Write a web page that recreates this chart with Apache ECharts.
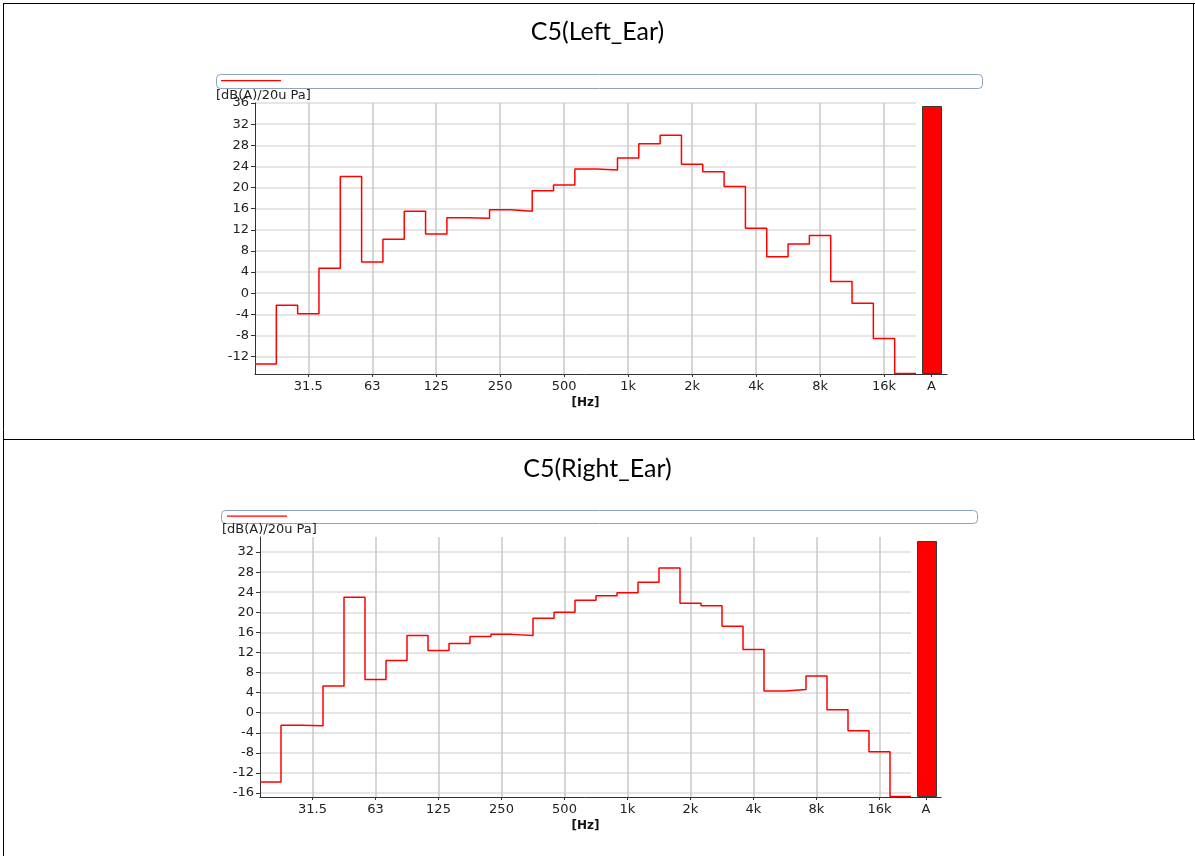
<!DOCTYPE html>
<html>
<head>
<meta charset="utf-8">
<script src="https://cdn.jsdelivr.net/npm/echarts@6/dist/echarts.min.js"></script>
<style>
  html, body { margin: 0; padding: 0; background: #ffffff; }
  #chart { width: 1195px; height: 856px; }
</style>
</head>
<body>
<div id="chart"></div>
<script>
// Third-octave band centre frequencies, 20 Hz .. 20 kHz
const bands = ['20','25','31.5','40','50','63','80','100','125','160','200','250','315','400','500','630',
               '800','1k','1.25k','1.6k','2k','2.5k','3.15k','4k','5k','6.3k','8k','10k','12.5k','16k','20k'];
// Bands that carry a frequency label on the x axis
const tickBands = ['31.5','63','125','250','500','1k','2k','4k','8k','16k'];

// Band levels, dB(A) re 20 uPa
const leftEar  = [-13.4,-2.3,-3.9,4.7,22.1,5.9,10.2,15.5,11.2,14.3,14.2,15.8,15.5,19.4,20.5,23.5,
                  23.3,25.6,28.3,29.9,24.4,23.0,20.2,12.3,6.9,9.3,10.9,2.2,-1.9,-8.6,-15.2];
const rightEar = [-13.8,-2.5,-2.6,5.3,23.0,6.6,10.4,15.4,12.4,13.8,15.2,15.6,15.4,18.8,20.0,22.4,
                  23.3,23.9,26.0,28.8,21.8,21.3,17.2,12.6,4.3,4.6,7.3,0.6,-3.6,-7.8,-16.7];

// Overall A-weighted levels
const leftTotal = 35.5;
const rightTotal = 34.3;

// Level axis ticks and ranges
const leftYTicks  = [-12,-8,-4,0,4,8,12,16,20,24,28,32,36];
const rightYTicks = [-16,-12,-8,-4,0,4,8,12,16,20,24,28,32];
const leftYRange  = [-15.3, 36];
const rightYRange = [-16.8, 35];

const RED = '#ff0000';
const AXIS = '#333333';
const TEXT = '#222222';
const FONT = 'DejaVu Sans';

// Each band is a flat step from its lower edge to its upper edge
function stepPoints(values) {
  const pts = [];
  values.forEach((v, i) => { pts.push([i, v]); pts.push([i + 1, v]); });
  return pts;
}
const tickPos = tickBands.map(b => bands.indexOf(b) + 0.5);

function freqAxis(gridIndex) {
  return {
    type: 'value', gridIndex: gridIndex, min: 0, max: bands.length,
    axisLine: { show: true, onZero: false, lineStyle: { color: AXIS, width: 1 } },
    axisTick: { show: true, customValues: tickPos, length: 3, lineStyle: { color: AXIS } },
    axisLabel: {
      customValues: tickPos, margin: 6,
      formatter: v => bands[Math.round(v - 0.5)],
      color: TEXT, fontFamily: FONT, fontSize: 13
    },
    splitLine: { show: true, lineStyle: { color: '#c8c8c8', width: 1.5 } },
    name: '[Hz]', nameLocation: 'middle', nameGap: 23,
    nameTextStyle: { color: '#111', fontFamily: FONT, fontSize: 12, fontWeight: 'bold' }
  };
}
function levelAxis(gridIndex, range, ticks) {
  return {
    type: 'value', gridIndex: gridIndex, min: range[0], max: range[1],
    axisLine: { show: true, onZero: false, lineStyle: { color: AXIS, width: 1 } },
    axisTick: { show: true, customValues: ticks, length: 4, lineStyle: { color: AXIS } },
    axisLabel: { customValues: ticks, margin: 6, color: TEXT, fontFamily: FONT, fontSize: 13 },
    splitLine: { show: true, lineStyle: { color: '#dedede', width: 1.5 } }
  };
}
function totalAxis(gridIndex) {
  return {
    type: 'category', gridIndex: gridIndex, data: ['A'],
    axisLine: { show: true, onZero: false, lineStyle: { color: AXIS, width: 1 } },
    axisTick: { show: true, alignWithLabel: true, length: 3, lineStyle: { color: AXIS } },
    axisLabel: { margin: 6, color: TEXT, fontFamily: FONT, fontSize: 13 },
    splitLine: { show: false }
  };
}
function hiddenLevelAxis(gridIndex, range) {
  return { type: 'value', gridIndex: gridIndex, min: range[0], max: range[1], show: false };
}
// Overall level column, standing on the bottom of the level range
function totalBar(name, gridIndex, value, range) {
  return {
    name: name, type: 'custom', xAxisIndex: gridIndex, yAxisIndex: gridIndex,
    data: [['A', value]],
    encode: { x: 0, y: 1 },
    renderItem: (params, api) => {
      const top = api.coord([api.value(0), api.value(1)]);
      const base = api.coord([api.value(0), range[0]]);
      return {
        type: 'rect',
        shape: { x: Math.round(top[0] - 9.5) + 0.5, y: Math.round(top[1]) + 0.5,
                 width: 19, height: Math.round(base[1] - top[1]) - 1 },
        style: { fill: RED, stroke: '#3a3a3a', lineWidth: 1 }
      };
    }
  };
}

const chart = echarts.init(document.getElementById('chart'), null, { renderer: 'canvas' });

chart.setOption({
  animation: false,
  backgroundColor: '#ffffff',
  title: [
    { text: 'C5(Left_Ear)', left: 'center', top: 14,
      textStyle: { fontFamily: 'Lato', fontSize: 25, fontWeight: 'normal', color: '#000' } },
    { text: 'C5(Right_Ear)', left: 'center', top: 451,
      textStyle: { fontFamily: 'Lato', fontSize: 25, fontWeight: 'normal', color: '#000' } }
  ],
  legend: [
    { data: ['C5(Left_Ear)'], left: 221, top: 80, padding: 0, icon: 'rect',
      itemWidth: 60, itemHeight: 1.2, formatter: () => '', selectedMode: false },
    { data: ['C5(Right_Ear)'], left: 227, top: 515.5, padding: 0, icon: 'rect',
      itemWidth: 60, itemHeight: 1.2, formatter: () => '', selectedMode: false }
  ],
  grid: [
    { left: 255, top: 103, width: 661, height: 271 },
    { left: 916, top: 103, width: 31, height: 271 },
    { left: 260, top: 537, width: 651, height: 260 },
    { left: 911, top: 537, width: 30, height: 260 }
  ],
  xAxis: [freqAxis(0), totalAxis(1), freqAxis(2), totalAxis(3)],
  yAxis: [
    levelAxis(0, leftYRange, leftYTicks),
    hiddenLevelAxis(1, leftYRange),
    levelAxis(2, rightYRange, rightYTicks),
    hiddenLevelAxis(3, rightYRange)
  ],
  graphic: [
    // table frame around the two charts
    { type: 'line', shape: { x1: 3, y1: 3.5, x2: 1195, y2: 3.5 }, style: { stroke: '#000', lineWidth: 1 } },
    { type: 'line', shape: { x1: 3.5, y1: 3, x2: 3.5, y2: 856 }, style: { stroke: '#000', lineWidth: 1 } },
    { type: 'line', shape: { x1: 3, y1: 439.5, x2: 1195, y2: 439.5 }, style: { stroke: '#000', lineWidth: 1 } },
    { type: 'line', shape: { x1: 1193.5, y1: 3, x2: 1193.5, y2: 439.5 }, style: { stroke: '#000', lineWidth: 1 } },
    // legend frames
    { type: 'rect', shape: { x: 216.5, y: 74.5, width: 766, height: 14, r: 4 },
      style: { fill: 'none', stroke: '#8ea4bd', lineWidth: 1 } },
    { type: 'rect', shape: { x: 221.5, y: 510.5, width: 756, height: 13, r: 4 },
      style: { fill: 'none', stroke: '#8ea4bd', lineWidth: 1 } },
    // level unit captions
    { type: 'text', left: 216, top: 89,
      style: { text: '[dB(A)/20u Pa]', font: '13px "DejaVu Sans"', fill: TEXT } },
    { type: 'text', left: 222, top: 523,
      style: { text: '[dB(A)/20u Pa]', font: '13px "DejaVu Sans"', fill: TEXT } }
  ],
  series: [
    { name: 'C5(Left_Ear)', type: 'line', xAxisIndex: 0, yAxisIndex: 0,
      data: stepPoints(leftEar), showSymbol: false, symbol: 'none',
      lineStyle: { color: RED, width: 1.5 }, itemStyle: { color: RED } },
    totalBar('C5(Left_Ear) A', 1, leftTotal, leftYRange),
    { name: 'C5(Right_Ear)', type: 'line', xAxisIndex: 2, yAxisIndex: 2,
      data: stepPoints(rightEar), showSymbol: false, symbol: 'none',
      lineStyle: { color: RED, width: 1.5 }, itemStyle: { color: RED } },
    totalBar('C5(Right_Ear) A', 3, rightTotal, rightYRange)
  ]
});
</script>
</body>
</html>
